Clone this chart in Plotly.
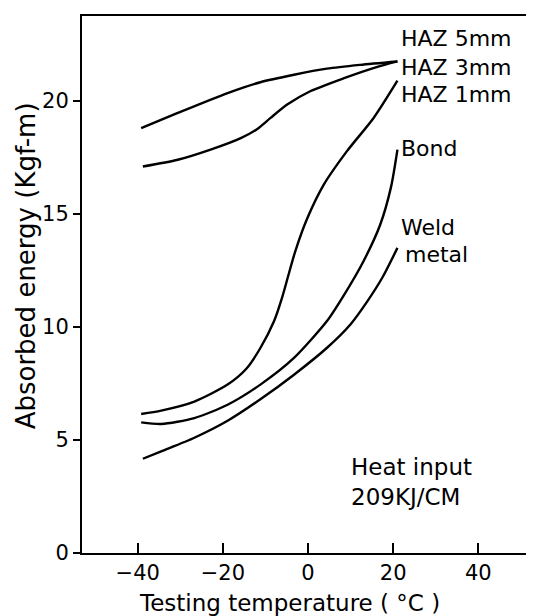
import plotly.graph_objects as go

# Data (temperature in °C, absorbed energy in kgf-m)
haz5_x = [-39.2, -30.6, -18.9, -11.2, -3.3, 4.4, 12.2, 21.0]
haz5_y = [18.8, 19.47, 20.35, 20.83, 21.16, 21.43, 21.6, 21.75]

haz3_x = [-38.8, -30.6, -22.9, -15.8, -12.0, -8.8, -4.9, 0.5, 8.3, 16.1, 21.0]
haz3_y = [17.1, 17.4, 17.85, 18.36, 18.75, 19.25, 19.84, 20.43, 21.0, 21.5, 21.75]

haz1_x = [-39.2, -34.5, -26.7, -18.9, -14.5, -11.2, -8.0, -6.1, -4.6, -3.0, -0.2, 3.7, 9.1, 15.4, 21.0]
haz1_y = [6.15, 6.3, 6.7, 7.45, 8.15, 9.07, 10.25, 11.3, 12.3, 13.35, 14.8, 16.3, 17.77, 19.25, 20.9]

bond_x = [-39.2, -34.5, -26.7, -18.9, -11.2, -3.3, 4.4, 8.4, 13.0, 16.9, 19.5, 21.0]
bond_y = [5.78, 5.71, 5.97, 6.56, 7.45, 8.63, 10.25, 11.4, 12.9, 14.5, 16.2, 17.85]

weld_x = [-38.8, -34.5, -26.7, -18.9, -11.2, -3.3, 4.4, 9.9, 13.8, 17.5, 21.0]
weld_y = [4.17, 4.5, 5.1, 5.85, 6.8, 7.89, 9.07, 10.1, 11.1, 12.2, 13.5]

series = [
    ("HAZ 5mm", haz5_x, haz5_y),
    ("HAZ 3mm", haz3_x, haz3_y),
    ("HAZ 1mm", haz1_x, haz1_y),
    ("Bond", bond_x, bond_y),
    ("Weld metal", weld_x, weld_y),
]

label_text = ["HAZ 5mm", "HAZ 3mm", "HAZ 1mm", "Bond", "Weld", "metal"]
label_x = [21.3, 21.3, 21.3, 21.3, 21.3, 22.4]
label_y = [22.75, 21.5, 20.3, 17.9, 14.4, 13.2]

x_ticks = [-40, -20, 0, 20, 40]
y_ticks = [0, 5, 10, 15, 20]

FONT = "DejaVu Sans"

fig = go.Figure()
for name, xs, ys in series:
    fig.add_trace(go.Scatter(x=xs, y=ys, mode="lines", name=name,
                             line=dict(color="black", width=2.4, shape="spline", smoothing=0.7),
                             showlegend=False, hoverinfo="skip"))

for t, x, y in zip(label_text, label_x, label_y):
    fig.add_annotation(x=x, y=y, text=t, showarrow=False, xanchor="left", yanchor="middle",
                       align="left", font=dict(family=FONT, size=22, color="black"))

fig.add_annotation(x=9.6, y=3.15, text="Heat input<br>209KJ/CM", showarrow=False,
                   xanchor="left", yanchor="middle", align="left",
                   font=dict(family=FONT, size=23, color="black"))

# Axis titles (placed as in the reference)
fig.add_annotation(xref="paper", yref="paper", x=-0.127, y=0.535, text="Absorbed energy (Kgf-m)",
                   textangle=-90, showarrow=False, xanchor="center", yanchor="middle",
                   font=dict(family=FONT, size=26, color="black"))
fig.add_annotation(xref="paper", yref="paper", x=0.467, y=-0.093, text="Testing temperature ( °C )",
                   showarrow=False, xanchor="center", yanchor="middle",
                   font=dict(family=FONT, size=23, color="black"))

fig.update_layout(
    width=534, height=616,
    margin=dict(l=74, r=16, t=8, b=71),
    paper_bgcolor="white", plot_bgcolor="white",
    font=dict(family=FONT, color="black", size=21),
)
fig.update_xaxes(range=[-53.1, 51.2], tickvals=x_ticks, ticks="inside", ticklen=10,
                 tickwidth=2, tickcolor="black", showline=True, linewidth=2, linecolor="black",
                 mirror=True, showgrid=False, zeroline=False, automargin=False,
                 tickfont=dict(size=21))
fig.update_yaxes(range=[0, 23.76], tickvals=y_ticks, ticks="outside", ticklen=7,
                 tickwidth=2, tickcolor="black", showline=True, linewidth=2, linecolor="black",
                 mirror=True, showgrid=False, zeroline=False, automargin=False,
                 tickfont=dict(size=21))

fig.write_html("out.html")
